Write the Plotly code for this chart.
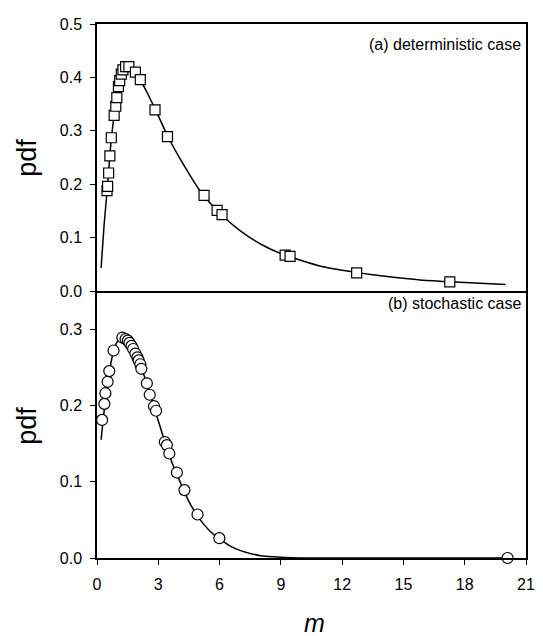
import plotly.graph_objects as go
from plotly.subplots import make_subplots

# (a) deterministic case - markers
det_x = [0.49, 0.52, 0.57, 0.63, 0.70, 0.84, 0.92, 0.97, 1.05, 1.11, 1.19, 1.27, 1.40, 1.56,
         1.88, 2.12, 2.84, 3.45, 5.24, 5.88, 6.12, 9.21, 9.45, 12.71, 17.27]
det_y = [0.188, 0.196, 0.221, 0.253, 0.287, 0.329, 0.346, 0.362, 0.383, 0.394, 0.406, 0.414, 0.420, 0.420,
         0.410, 0.396, 0.339, 0.289, 0.179, 0.151, 0.143, 0.067, 0.065, 0.034, 0.017]
# (a) fitted curve
det_cx = [0.2, 0.35, 0.5, 0.7, 0.9, 1.1, 1.3, 1.5, 1.8, 2.1, 2.5, 3.0, 3.5, 4.0, 4.5, 5.0, 5.5, 6.0,
          7.0, 8.0, 9.0, 10, 11, 12, 13, 14, 15, 16, 17, 18, 19, 20]
det_cy = [0.043, 0.125, 0.19, 0.285, 0.345, 0.388, 0.412, 0.420, 0.413, 0.397, 0.368, 0.328, 0.287,
          0.252, 0.220, 0.190, 0.166, 0.146, 0.113, 0.088, 0.070, 0.057, 0.046, 0.039, 0.033, 0.028,
          0.024, 0.020, 0.018, 0.016, 0.014, 0.012]

# (b) stochastic case - markers
sto_x = [0.25, 0.36, 0.41, 0.52, 0.60, 0.81, 1.24, 1.40, 1.51, 1.59, 1.69, 1.77, 1.88, 1.98, 2.04,
         2.12, 2.17, 2.44, 2.58, 2.79, 2.89, 3.32, 3.42, 3.54, 3.91, 4.28, 4.92, 5.99, 20.1]
sto_y = [0.181, 0.202, 0.216, 0.231, 0.245, 0.272, 0.289, 0.287, 0.285, 0.282, 0.278, 0.274, 0.268,
         0.263, 0.259, 0.254, 0.248, 0.229, 0.214, 0.199, 0.193, 0.152, 0.148, 0.137, 0.112, 0.089,
         0.057, 0.026, 0.0]
# (b) fitted curve
sto_cx = [0.2, 0.4, 0.6, 0.8, 1.0, 1.2, 1.4, 1.6, 1.8, 2.0, 2.2, 2.5, 2.8, 3.0, 3.3, 3.6, 4.0, 4.5,
          5.0, 5.5, 6.0, 6.5, 7.0, 7.5, 8.0, 9.0, 10, 12, 15, 20]
sto_cy = [0.155, 0.205, 0.243, 0.270, 0.284, 0.290, 0.289, 0.283, 0.273, 0.261, 0.247, 0.224, 0.197,
          0.180, 0.154, 0.130, 0.104, 0.074, 0.052, 0.036, 0.025, 0.016, 0.010, 0.006, 0.003, 0.001,
          0.0, 0.0, 0.0, 0.0]

x_ticks = [0, 3, 6, 9, 12, 15, 18, 21]
ya_ticks = [0.0, 0.1, 0.2, 0.3, 0.4, 0.5]
yb_ticks = [0.0, 0.1, 0.2, 0.3]

FONT = "Liberation Sans, Arial, sans-serif"

fig = make_subplots(rows=2, cols=1, shared_xaxes=True, vertical_spacing=0.0)

fig.add_trace(go.Scatter(x=det_cx, y=det_cy, mode="lines",
                         line=dict(color="black", width=1.5, shape="spline", smoothing=0.6),
                         hoverinfo="skip"), row=1, col=1)
fig.add_trace(go.Scatter(x=det_x, y=det_y, mode="markers",
                         marker=dict(symbol="square", size=10, color="white", line=dict(color="black", width=1.2))),
              row=1, col=1)
fig.add_trace(go.Scatter(x=sto_cx, y=sto_cy, mode="lines",
                         line=dict(color="black", width=1.5, shape="spline", smoothing=0.6),
                         hoverinfo="skip"), row=2, col=1)
fig.add_trace(go.Scatter(x=sto_x, y=sto_y, mode="markers", cliponaxis=False,
                         marker=dict(symbol="circle", size=11, color="white", line=dict(color="black", width=1.2))),
              row=2, col=1)

axis_common = dict(showline=True, linecolor="black", linewidth=1.5, showgrid=False,
                   zeroline=False, ticks="outside", ticklen=5, tickwidth=1.2, tickcolor="black",
                   tickfont=dict(family=FONT, size=16, color="black"))

fig.update_xaxes(range=[0, 21], tickvals=x_ticks, **axis_common)
fig.update_xaxes(showticklabels=False, ticks="", mirror=True, row=1, col=1)
fig.update_xaxes(ticktext=[str(v) for v in x_ticks], mirror=False, ticklabelstandoff=6, row=2, col=1)
fig.update_yaxes(range=[0, 0.5], tickvals=ya_ticks, ticktext=[f"{v:.1f}" for v in ya_ticks],
                 mirror=True, ticklabelstandoff=5, **axis_common, row=1, col=1)
fig.update_yaxes(range=[0, 0.35], tickvals=yb_ticks, ticktext=[f"{v:.1f}" for v in yb_ticks],
                 mirror=True, ticklabelstandoff=5, **axis_common, row=2, col=1)

fig.update_layout(
    width=535, height=628,
    margin=dict(l=89, r=8, t=13, b=78),
    plot_bgcolor="white", paper_bgcolor="white",
    showlegend=False,
    font=dict(family=FONT, color="black"),
)
fig.layout.yaxis.domain = [0.5, 1.0]
fig.layout.yaxis2.domain = [0.0, 0.5]

ann_font = dict(family=FONT, size=16, color="black")
fig.add_annotation(text="(a) deterministic case", xref="paper", yref="paper", x=0.992, y=0.961,
                   xanchor="right", yanchor="middle", showarrow=False, font=ann_font)
fig.add_annotation(text="(b) stochastic case", xref="paper", yref="paper", x=0.992, y=0.476,
                   xanchor="right", yanchor="middle", showarrow=False, font=ann_font)
fig.add_annotation(text="pdf", xref="paper", yref="paper", x=-0.165, y=0.750, textangle=-90,
                   xanchor="center", yanchor="middle", showarrow=False, font=dict(family=FONT, size=27, color="black"))
fig.add_annotation(text="pdf", xref="paper", yref="paper", x=-0.165, y=0.248, textangle=-90,
                   xanchor="center", yanchor="middle", showarrow=False, font=dict(family=FONT, size=27, color="black"))
fig.add_annotation(text="<i>m</i>", xref="paper", yref="paper", x=0.506, y=-0.122,
                   xanchor="center", yanchor="middle", showarrow=False, font=dict(family=FONT, size=25, color="black"))

fig.write_html("out.html")
